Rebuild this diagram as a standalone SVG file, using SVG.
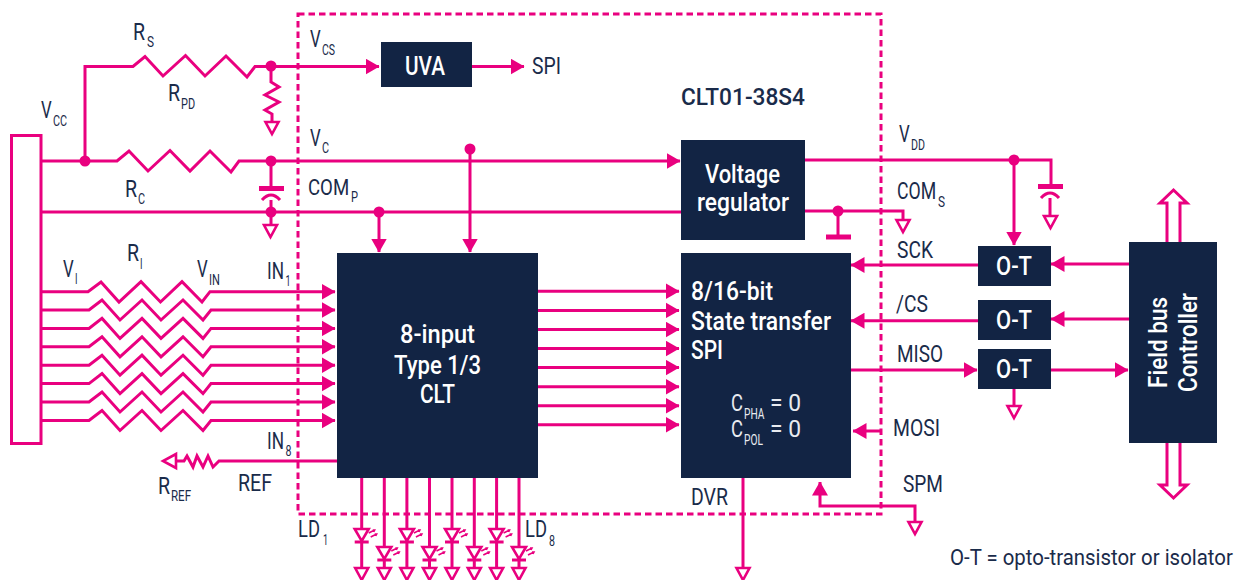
<svg xmlns="http://www.w3.org/2000/svg" width="1242" height="580" viewBox="0 0 1242 580">
<style>
text{font-family:Roboto,"Liberation Sans",sans-serif;fill:#1a2b4a}
.m{font-size:23px}.s{font-size:15px}
.w{fill:#fff;font-weight:500;font-size:26px}
.w2{fill:#e8ebf0;font-size:23px}.ws{fill:#e8ebf0;font-size:15px}
.b{fill:#122444}
.l{fill:none;stroke:#e9007f;stroke-width:3;stroke-linejoin:miter}
.t{fill:none;stroke:#e9007f;stroke-width:1.600}
.g{fill:#fff;stroke:#e9007f;stroke-width:2.600}
.d{fill:#e9007f}
</style>
<defs>
<marker id="a" markerUnits="userSpaceOnUse" viewBox="0 0 14 16" refX="13.500" refY="8" markerWidth="14" markerHeight="16" orient="auto"><path class="d" d="M0 0L14 8L0 16z"/></marker>
<g id="gnd"><path class="g" d="M-6.500 0H6.500L0 12z"/></g>
<g id="led"><path class="g" d="M-7 0H7L0 12z"/><path class="l" d="M-7 13H7"/><path class="t" d="M7 4l6-3m-2 0l2 0l-1 2M9 8l6-3m-2 0l2 0l-1 2"/></g>
</defs>
<g id="connectors">
<path class="l" d="M41 161H117L129 151L148 171L170 150.500L190 171L210 151L231 172L239 161H680" marker-end="url(#a)"/>
<path class="l" d="M85 161V66.500H133L145 56.500L163 76L185.500 55.500L205 76L226 56L247 77L255 66.500H379" marker-end="url(#a)"/>
<path class="l" d="M271 66V82L279 87L265 95L279 102L265 110L272 114V121"/>
<path class="l" d="M271 161V188M271 200V225"/>
<path class="l" style="stroke-width:5" d="M259 188.500H284"/>
<path class="l" d="M262 200Q271 190 280 200"/>
<path class="l" d="M41 212H681"/>
<path class="l" d="M379 212V252" marker-end="url(#a)"/>
<path class="l" d="M470 149V252" marker-end="url(#a)"/>
<path class="l" d="M472 66.500H524" marker-end="url(#a)"/>
<path class="l" d="M41 291.700H88L101 282L119 302L141 281.700L160.500 302L182 281.700L202 302L210 291.700H335" marker-end="url(#a)"/>
<path class="l" d="M41 310H89L102 300L120 320L142 300L161 320L183 300L203 320L211 310H335" marker-end="url(#a)"/>
<path class="l" d="M41 328.400H89L102 318.400L120 338.400L142 318.400L161 338.400L183 318.400L203 338.400L211 328.400H335" marker-end="url(#a)"/>
<path class="l" d="M41 346.800H89L102 336.800L120 356.800L142 336.800L161 356.800L183 336.800L203 356.800L211 346.800H335" marker-end="url(#a)"/>
<path class="l" d="M41 365.200H89L102 355.200L120 375.200L142 355.200L161 375.200L183 355.200L203 375.200L211 365.200H335" marker-end="url(#a)"/>
<path class="l" d="M41 383.600H89L102 373.600L120 393.600L142 373.600L161 393.600L183 373.600L203 393.600L211 383.600H335" marker-end="url(#a)"/>
<path class="l" d="M41 402H89L102 392L120 412L142 392L161 412L183 392L203 412L211 402H335" marker-end="url(#a)"/>
<path class="l" d="M41 420.500H89L102 410.500L120 430.500L142 410.500L161 430.500L183 410.500L203 430.500L211 420.500H335" marker-end="url(#a)"/>
<path class="l" d="M337 461H219L213 467L208 456L203 467L197 456L193 467L187 456L184 461H175"/>
<path class="g" d="M176 454V468L163 461z"/>
<path class="l" d="M538 291.300H679" marker-end="url(#a)"/>
<path class="l" d="M538 310.400H679" marker-end="url(#a)"/>
<path class="l" d="M538 329.500H679" marker-end="url(#a)"/>
<path class="l" d="M538 348.500H679" marker-end="url(#a)"/>
<path class="l" d="M538 367.600H679" marker-end="url(#a)"/>
<path class="l" d="M538 386.700H679" marker-end="url(#a)"/>
<path class="l" d="M538 405.700H679" marker-end="url(#a)"/>
<path class="l" d="M538 424.800H679" marker-end="url(#a)"/>
<path class="l" d="M361.700 478V570M384.300 478V570M406.900 478V570M429.500 478V570M452 478V570M474.300 478V570M496.600 478V570M519 478V570"/>
<path class="l" d="M1014 160V245" marker-end="url(#a)"/>
<path class="l" d="M805 160H1051V186M1050 198V216"/>
<path class="l" style="stroke-width:5" d="M1038 186.500H1063"/>
<path class="l" d="M1041 198Q1050 188 1059 198"/>
<path class="l" d="M805 211H903V220M838 211V236"/>
<path class="l" style="stroke-width:5" d="M826 237H851"/>
<path class="l" d="M978 265H851" marker-end="url(#a)"/>
<path class="l" d="M978 320.700H851" marker-end="url(#a)"/>
<path class="l" d="M851 370H977" marker-end="url(#a)"/>
<path class="l" d="M1129 264H1051" marker-end="url(#a)"/>
<path class="l" d="M1129 319H1051" marker-end="url(#a)"/>
<path class="l" d="M1050 370H1128" marker-end="url(#a)"/>
<path class="l" d="M1014 389V406"/>
<path class="l" d="M881 431H853" marker-end="url(#a)"/>
<path class="l" d="M915 522V506H820V482" marker-end="url(#a)"/>
<path class="l" d="M743 478V568"/>
<path class="l" d="M1167 242V203H1160L1173.500 190L1187 203H1180V242"/>
<path class="l" d="M1167 443V485H1160L1173.500 498L1187 485H1180V443"/>
<circle class="d" cx="85" cy="161" r="5.500"/>
<circle class="d" cx="271" cy="66" r="5.500"/>
<circle class="d" cx="271" cy="161" r="5.500"/>
<circle class="d" cx="271" cy="212" r="5.500"/>
<circle class="d" cx="379" cy="212" r="5.500"/>
<circle class="d" cx="470" cy="149" r="5.500"/>
<circle class="d" cx="1014" cy="160" r="5.500"/>
<circle class="d" cx="838" cy="211" r="5.500"/>
<use href="#gnd" x="272" y="122"/>
<use href="#gnd" x="270.500" y="225"/>
<use href="#gnd" x="1050.500" y="216"/>
<use href="#gnd" x="903" y="220"/>
<use href="#gnd" x="1014" y="406"/>
<use href="#gnd" x="915" y="522"/>
<use href="#gnd" x="743" y="568"/>
<use href="#gnd" x="361.700" y="568"/><use href="#gnd" x="384.300" y="568"/><use href="#gnd" x="406.900" y="568"/><use href="#gnd" x="429.500" y="568"/><use href="#gnd" x="452" y="568"/><use href="#gnd" x="474.300" y="568"/><use href="#gnd" x="496.600" y="568"/><use href="#gnd" x="519" y="568"/>
<use href="#led" x="361.700" y="529"/><use href="#led" x="384.300" y="547"/><use href="#led" x="406.900" y="529"/><use href="#led" x="429.500" y="547"/><use href="#led" x="452" y="529"/><use href="#led" x="474.300" y="547"/><use href="#led" x="496.600" y="529"/><use href="#led" x="519" y="547"/>
<rect x="298" y="14" width="583" height="500" fill="none" stroke="#e9007f" stroke-width="3" stroke-dasharray="6.500 4"/>
</g>
<g id="vcc-connector"><rect x="11.500" y="135.500" width="29.500" height="308" fill="#fff" stroke="#e9007f" stroke-width="3"/></g>
<g id="uva"><rect class="b" x="381" y="42" width="91" height="45"/><text class="w" x="405" y="75" textLength="40" lengthAdjust="spacingAndGlyphs">UVA</text></g>
<g id="regulator"><rect class="b" x="681" y="140" width="124" height="100"/>
<text class="w" x="705" y="183" textLength="75" lengthAdjust="spacingAndGlyphs">Voltage</text>
<text class="w" x="697" y="211" textLength="92" lengthAdjust="spacingAndGlyphs">regulator</text></g>
<g id="clt"><rect class="b" x="337" y="253" width="201" height="225"/>
<text class="w" x="400" y="343" textLength="75" lengthAdjust="spacingAndGlyphs">8-input</text>
<text class="w" x="394" y="374" textLength="87" lengthAdjust="spacingAndGlyphs">Type 1/3</text>
<text class="w" x="420" y="403" textLength="35" lengthAdjust="spacingAndGlyphs">CLT</text></g>
<g id="spi"><rect class="b" x="681" y="253" width="170" height="225"/>
<text class="w" x="691" y="300" textLength="82" lengthAdjust="spacingAndGlyphs">8/16-bit</text>
<text class="w" x="691" y="330" textLength="140" lengthAdjust="spacingAndGlyphs">State transfer</text>
<text class="w" x="691" y="359" textLength="32" lengthAdjust="spacingAndGlyphs">SPI</text>
<text class="w2" transform="translate(731 411) scale(.8 1)">C</text><text class="ws" transform="translate(744 419) scale(.68 1)">PHA</text><text class="w2" x="770" y="411" textLength="31" lengthAdjust="spacingAndGlyphs">= 0</text>
<text class="w2" transform="translate(731 437) scale(.8 1)">C</text><text class="ws" transform="translate(744 445) scale(.68 1)">POL</text><text class="w2" x="770" y="437" textLength="31" lengthAdjust="spacingAndGlyphs">= 0</text></g>
<g id="ot1"><rect class="b" x="978" y="246" width="73" height="40"/><text class="w" x="996" y="275" textLength="36" lengthAdjust="spacingAndGlyphs">O-T</text></g>
<g id="ot2"><rect class="b" x="978" y="300" width="73" height="40"/><text class="w" x="996" y="329" textLength="36" lengthAdjust="spacingAndGlyphs">O-T</text></g>
<g id="ot3"><rect class="b" x="978" y="349" width="73" height="40"/><text class="w" x="996" y="378" textLength="36" lengthAdjust="spacingAndGlyphs">O-T</text></g>
<g id="fieldbus"><rect class="b" x="1129" y="242" width="88" height="201"/>
<text class="w" transform="translate(1167 388) rotate(-90)" textLength="91" lengthAdjust="spacingAndGlyphs">Field bus</text>
<text class="w" transform="translate(1197 392) rotate(-90)" textLength="99" lengthAdjust="spacingAndGlyphs">Controller</text></g>
<g id="labels">
<text class="m" transform="translate(133 40) scale(.85 1)">R</text><text class="s" transform="translate(147 47) scale(.79 1)">S</text>
<text class="m" transform="translate(41 118) scale(.73 1)">V</text><text class="s" transform="translate(53 126) scale(.72 1)">CC</text>
<text class="m" transform="translate(168 101) scale(.85 1)">R</text><text class="s" transform="translate(181 109) scale(.73 1)">PD</text>
<text class="m" transform="translate(125 197) scale(.85 1)">R</text><text class="s" transform="translate(138 204) scale(.72 1)">C</text>
<text class="m" transform="translate(310 47) scale(.73 1)">V</text><text class="s" transform="translate(322 55) scale(.7 1)">CS</text>
<text class="m" transform="translate(310 146) scale(.73 1)">V</text><text class="s" transform="translate(322 153) scale(.72 1)">C</text>
<text class="m" transform="translate(308 195) scale(.81 1)">COM</text><text class="s" transform="translate(351 202) scale(.74 1)">P</text>
<text class="m" transform="translate(63 277) scale(.73 1)">V</text><text class="s" transform="translate(75 284) scale(.61 1)">I</text>
<text class="m" transform="translate(127 261) scale(.85 1)">R</text><text class="s" transform="translate(140 269) scale(.61 1)">I</text>
<text class="m" transform="translate(197 277) scale(.73 1)">V</text><text class="s" transform="translate(209 285) scale(.74 1)">IN</text>
<text class="m" transform="translate(267 279) scale(.75 1)">IN</text><text class="s" transform="translate(285.500 286) scale(.6 1)">1</text>
<text class="m" transform="translate(267 449) scale(.75 1)">IN</text><text class="s" transform="translate(285.500 456) scale(.71 1)">8</text>
<text class="m" transform="translate(158 494) scale(.85 1)">R</text><text class="s" transform="translate(171 501) scale(.77 1)">REF</text>
<text class="m" x="238" y="491" textLength="34" lengthAdjust="spacingAndGlyphs">REF</text>
<text class="m" transform="translate(298 537) scale(.8 1)">LD</text><text class="s" transform="translate(323 545) scale(.6 1)">1</text>
<text class="m" transform="translate(525 537) scale(.8 1)">LD</text><text class="s" transform="translate(549 546) scale(.71 1)">8</text>
<text class="m" x="691" y="505" textLength="37" lengthAdjust="spacingAndGlyphs">DVR</text>
<text class="m" x="903" y="492" textLength="40" lengthAdjust="spacingAndGlyphs">SPM</text>
<text class="m" x="893" y="436" textLength="47" lengthAdjust="spacingAndGlyphs">MOSI</text>
<text class="m" x="897" y="362" textLength="46" lengthAdjust="spacingAndGlyphs">MISO</text>
<text class="m" x="896" y="312" textLength="32" lengthAdjust="spacingAndGlyphs">/CS</text>
<text class="m" x="897" y="258" textLength="36" lengthAdjust="spacingAndGlyphs">SCK</text>
<text class="m" transform="translate(897 199) scale(.77 1)">COM</text><text class="s" transform="translate(938 207) scale(.79 1)">S</text>
<text class="m" transform="translate(899 142) scale(.73 1)">V</text><text class="s" transform="translate(911 150) scale(.71 1)">DD</text>
<text class="m" x="532" y="74" textLength="29" lengthAdjust="spacingAndGlyphs">SPI</text>
<text class="m" x="681" y="105" style="font-weight:500" textLength="124" lengthAdjust="spacingAndGlyphs">CLT01-38S4</text>
<text class="m" transform="translate(950 565) scale(.887 1)">O-T = opto-transistor or isolator</text>
</g>
</svg>
